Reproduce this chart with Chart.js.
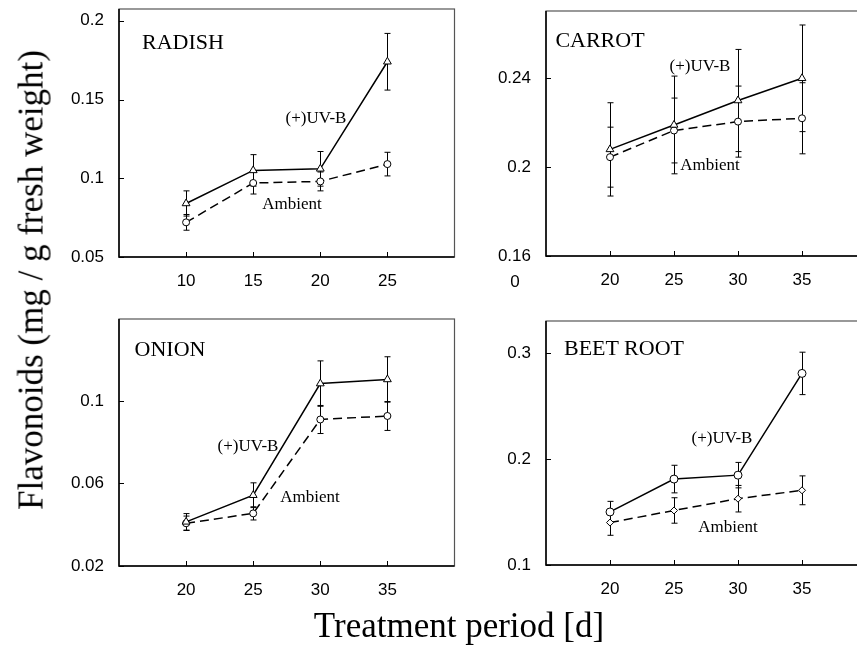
<!DOCTYPE html>
<html>
<head>
<meta charset="utf-8">
<script src="https://cdn.jsdelivr.net/npm/chart.js"></script>
<style>
  html, body { margin: 0; padding: 0; background: #fff; width: 857px; height: 648px; overflow: hidden; position: relative; }
  canvas { position: absolute; }
  .lbl { position: absolute; font-family: "Liberation Serif", "Times New Roman", serif; color: #000; line-height: 1; white-space: nowrap; transform: translate(-50%, -50%); }
  .tick0 { position: absolute; font-family: "Liberation Sans", Arial, sans-serif; font-size: 17px; line-height: 1; transform: translate(-50%, -50%); }
</style>
</head>
<body>
<canvas id="radish" width="420" height="300" style="left:40px;top:0px"></canvas>
<canvas id="carrot" width="410" height="300" style="left:470px;top:0px"></canvas>
<canvas id="onion" width="420" height="320" style="left:40px;top:300px"></canvas>
<canvas id="beet" width="410" height="320" style="left:470px;top:300px"></canvas>

<div class="lbl" style="left:183px;top:42px;font-size:22px">RADISH</div>
<div class="lbl" style="left:316px;top:117px;font-size:17px">(+)UV-B</div>
<div class="lbl" style="left:292px;top:203px;font-size:17px">Ambient</div>

<div class="lbl" style="left:600px;top:40px;font-size:22px">CARROT</div>
<div class="lbl" style="left:700px;top:65px;font-size:17px">(+)UV-B</div>
<div class="lbl" style="left:710px;top:164px;font-size:17px">Ambient</div>
<div class="tick0" style="left:515px;top:281px">0</div>

<div class="lbl" style="left:170px;top:349px;font-size:22px">ONION</div>
<div class="lbl" style="left:248px;top:445px;font-size:17px">(+)UV-B</div>
<div class="lbl" style="left:310px;top:496px;font-size:17px">Ambient</div>

<div class="lbl" style="left:624px;top:348px;font-size:22px">BEET ROOT</div>
<div class="lbl" style="left:722px;top:437px;font-size:17px">(+)UV-B</div>
<div class="lbl" style="left:728px;top:526px;font-size:17px">Ambient</div>

<div class="lbl" style="left:31px;top:280px;font-size:35px;transform:translate(-50%,-50%) rotate(-90deg)">Flavonoids (mg / g fresh weight)</div>
<div class="lbl" style="left:459px;top:625px;font-size:35px">Treatment period [d]</div>

<script>
// ---- data ----
const radishDays = [10, 15, 20, 25];
const radishUv = [0.084, 0.105, 0.106, 0.174];
const radishUvErr = [0.008, 0.010, 0.011, 0.018];
const radishAmb = [0.072, 0.097, 0.098, 0.109];
const radishAmbErr = [0.005, 0.007, 0.006, 0.0075];
const radishYTicks = [0.05, 0.1, 0.15, 0.2];
const radishYLabels = ['0.05', '0.1', '0.15', '0.2'];
const radishXTicks = [10, 15, 20, 25];

const carrotDays = [20, 25, 30, 35];
const carrotUv = [0.208, 0.219, 0.230, 0.240];
const carrotUvErr = [0.021, 0.022, 0.023, 0.024];
const carrotAmb = [0.2045, 0.2165, 0.2205, 0.222];
const carrotAmbErr = [0.0135, 0.0146, 0.016, 0.016];
const carrotYTicks = [0.16, 0.2, 0.24];
const carrotYLabels = ['0.16', '0.2', '0.24'];
const carrotXTicks = [20, 25, 30, 35];

const onionDays = [20, 25, 30, 35];
const onionUv = [0.0414, 0.0543, 0.1084, 0.1104];
const onionUvErr = [0.004, 0.006, 0.011, 0.011];
const onionAmb = [0.0407, 0.0455, 0.091, 0.0927];
const onionAmbErr = [0.0035, 0.0032, 0.0068, 0.007];
const onionYTicks = [0.02, 0.06, 0.1];
const onionYLabels = ['0.02', '0.06', '0.1'];
const onionXTicks = [20, 25, 30, 35];

const beetDays = [20, 25, 30, 35];
const beetUv = [0.150, 0.181, 0.1847, 0.2806];
const beetUvErr = [0.010, 0.013, 0.012, 0.020];
const beetAmb = [0.140, 0.1514, 0.1625, 0.1704];
const beetAmbErr = [0.012, 0.012, 0.0125, 0.0136];
const beetYTicks = [0.1, 0.2, 0.3];
const beetYLabels = ['0.1', '0.2', '0.3'];
const beetXTicks = [20, 25, 30, 35];

// error bars, frame and inward ticks
const framePlugin = {
  id: 'frame',
  beforeDatasetsDraw(chart) {
    const ctx = chart.ctx;
    const x = chart.scales.x, y = chart.scales.y;
    ctx.save();
    ctx.strokeStyle = '#000';
    ctx.lineWidth = 1;
    chart.data.datasets.forEach(ds => {
      ds.data.forEach((p, i) => {
        const e = ds.errors[i];
        const px = Math.round(x.getPixelForValue(p.x)) + 0.5;
        const top = y.getPixelForValue(p.y + e);
        const bot = y.getPixelForValue(p.y - e);
        ctx.beginPath();
        ctx.moveTo(px, top); ctx.lineTo(px, bot);
        ctx.moveTo(px - 3, top); ctx.lineTo(px + 3, top);
        ctx.moveTo(px - 3, bot); ctx.lineTo(px + 3, bot);
        ctx.stroke();
      });
    });
    ctx.restore();
  },
  afterDraw(chart) {
    const ctx = chart.ctx;
    const a = chart.chartArea;
    const x = chart.scales.x, y = chart.scales.y;
    ctx.save();
    ctx.strokeStyle = '#555';
    ctx.lineWidth = 1.2;
    ctx.strokeRect(a.left, a.top, a.right - a.left, a.bottom - a.top);
    ctx.strokeStyle = '#000';
    ctx.lineWidth = 1.5;
    ctx.beginPath();
    ctx.moveTo(a.left, a.top); ctx.lineTo(a.left, a.bottom); ctx.lineTo(a.right, a.bottom);
    ctx.stroke();
    ctx.lineWidth = 1;
    ctx.beginPath();
    y.ticks.forEach(t => {
      const py = Math.round(y.getPixelForValue(t.value)) + 0.5;
      ctx.moveTo(a.left, py); ctx.lineTo(a.left + 5, py);
    });
    x.ticks.forEach(t => {
      const px = Math.round(x.getPixelForValue(t.value)) + 0.5;
      ctx.moveTo(px, a.bottom); ctx.lineTo(px, a.bottom - 5);
    });
    ctx.stroke();
    ctx.restore();
  }
};

function pts(xs, ys) {
  return xs.map((v, i) => ({ x: v, y: ys[i] }));
}

function panel(id, o) {
  const sans = { family: "'Liberation Sans', Arial, sans-serif", size: 17 };
  new Chart(id, {
    type: 'line',
    data: {
      datasets: [
        {
          data: pts(o.days, o.uv), errors: o.uvErr,
          borderColor: '#000', borderWidth: 1.5,
          pointStyle: o.uvStyle, pointRadius: o.uvRadius,
          pointBackgroundColor: '#fff', pointBorderColor: '#000', pointBorderWidth: 1
        },
        {
          data: pts(o.days, o.amb), errors: o.ambErr,
          borderColor: '#000', borderWidth: 1.5, borderDash: [9, 5],
          pointStyle: o.ambStyle, pointRadius: o.ambRadius,
          pointBackgroundColor: '#fff', pointBorderColor: '#000', pointBorderWidth: 1
        }
      ]
    },
    options: {
      responsive: false,
      animation: false,
      layout: { padding: { top: o.top, right: o.right, left: 0, bottom: 0 } },
      plugins: { legend: { display: false }, tooltip: { enabled: false } },
      scales: {
        x: {
          type: 'linear', min: o.xMin, max: o.xMax,
          grid: { display: false, drawTicks: false }, border: { display: false },
          ticks: { color: '#000', font: sans, padding: 14, maxRotation: 0, autoSkip: false },
          afterBuildTicks: s => { s.ticks = o.xTicks.map(v => ({ value: v })); },
          afterFit: s => { s.height = o.xHeight; s.paddingLeft = 0; s.paddingRight = 0; }
        },
        y: {
          min: o.yMin, max: o.yMax,
          grid: { display: false, drawTicks: false }, border: { display: false },
          ticks: { color: '#000', font: sans, padding: 15, callback: (v, i) => o.yLabels[i] },
          afterBuildTicks: s => { s.ticks = o.yTicks.map(v => ({ value: v })); },
          afterFit: s => { s.width = o.yWidth; s.paddingTop = 0; s.paddingBottom = 0; }
        }
      }
    },
    plugins: [framePlugin]
  });
}

panel('radish', {
  days: radishDays, uv: radishUv, uvErr: radishUvErr, amb: radishAmb, ambErr: radishAmbErr,
  xTicks: radishXTicks, yTicks: radishYTicks, yLabels: radishYLabels,
  xMin: 5, xMax: 30, yMin: 0.05, yMax: 0.2075,
  uvStyle: 'triangle', uvRadius: 4.5, ambStyle: 'circle', ambRadius: 3.5,
  top: 9, right: 3, yWidth: 79, xHeight: 43
});
panel('carrot', {
  days: carrotDays, uv: carrotUv, uvErr: carrotUvErr, amb: carrotAmb, ambErr: carrotAmbErr,
  xTicks: carrotXTicks, yTicks: carrotYTicks, yLabels: carrotYLabels,
  xMin: 15, xMax: 40, yMin: 0.16, yMax: 0.2703,
  uvStyle: 'triangle', uvRadius: 4.5, ambStyle: 'circle', ambRadius: 3.5,
  top: 11, right: 14, yWidth: 76, xHeight: 44
});
panel('onion', {
  days: onionDays, uv: onionUv, uvErr: onionUvErr, amb: onionAmb, ambErr: onionAmbErr,
  xTicks: onionXTicks, yTicks: onionYTicks, yLabels: onionYLabels,
  xMin: 15, xMax: 40, yMin: 0.02, yMax: 0.1397,
  uvStyle: 'triangle', uvRadius: 4.5, ambStyle: 'circle', ambRadius: 3.5,
  top: 19, right: 3, yWidth: 79, xHeight: 54
});
panel('beet', {
  days: beetDays, uv: beetUv, uvErr: beetUvErr, amb: beetAmb, ambErr: beetAmbErr,
  xTicks: beetXTicks, yTicks: beetYTicks, yLabels: beetYLabels,
  xMin: 15, xMax: 40, yMin: 0.1, yMax: 0.330,
  uvStyle: 'circle', uvRadius: 4, ambStyle: 'rectRot', ambRadius: 3.5,
  top: 21, right: 14, yWidth: 76, xHeight: 55
});
</script>
</body>
</html>
